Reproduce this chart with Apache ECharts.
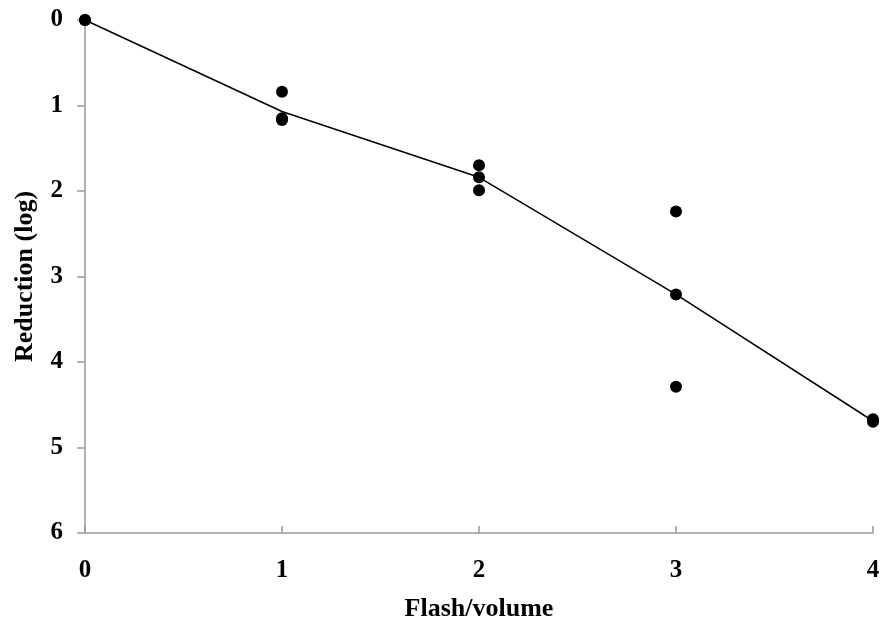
<!DOCTYPE html>
<html>
<head>
<meta charset="utf-8">
<script src="https://cdn.jsdelivr.net/npm/echarts@6/dist/echarts.min.js"></script>
<style>html,body{margin:0;padding:0;background:#fff;}#c{width:880px;height:625px;}</style>
</head>
<body>
<div id="c"></div>
<script>
const xTicks = [0, 1, 2, 3, 4];
const yTicks = [0, 1, 2, 3, 4, 5, 6];
const obsX = [0, 0, 1, 1, 1, 2, 2, 2, 3, 3, 3, 4, 4];
const obsY = [0, 0, 0.84, 1.15, 1.17, 1.70, 1.84, 1.99, 2.24, 3.21, 4.29, 4.67, 4.70];
const meanX = [0, 1, 2, 3, 4];
const meanY = [0, 1.07, 1.84, 3.21, 4.69];

const font = 'Liberation Serif';
const chart = echarts.init(document.getElementById('c'));
chart.setOption({
  animation: false,
  backgroundColor: '#fff',
  grid: { left: 85, right: 7, top: 20, bottom: 92, outerBoundsMode: 'none' },
  xAxis: {
    type: 'value', position: 'bottom', min: xTicks[0], max: xTicks[xTicks.length - 1], interval: 1,
    name: 'Flash/volume', nameLocation: 'middle', nameGap: 63,
    nameTextStyle: { fontFamily: font, fontWeight: 'bold', fontSize: 26, color: '#000' },
    axisLine: { show: true, onZero: false, lineStyle: { color: '#999', width: 1.5 } },
    axisTick: { show: true, inside: true, length: 7, lineStyle: { color: '#999', width: 1.5 } },
    axisLabel: { margin: 25, fontFamily: font, fontWeight: 'bold', fontSize: 25, color: '#000' },
    splitLine: { show: false }
  },
  yAxis: {
    type: 'value', position: 'left', min: yTicks[0], max: yTicks[yTicks.length - 1], interval: 1, inverse: true,
    name: 'Reduction (log)', nameLocation: 'middle', nameGap: 47, nameRotate: 90,
    nameTextStyle: { fontFamily: font, fontWeight: 'bold', fontSize: 26, color: '#000' },
    axisLine: { show: true, onZero: false, lineStyle: { color: '#999', width: 1.5 } },
    axisTick: { show: true, inside: false, length: 8, lineStyle: { color: '#999', width: 1.5 } },
    axisLabel: { margin: 22, fontFamily: font, fontWeight: 'bold', fontSize: 25, color: '#000' },
    splitLine: { show: false }
  },
  series: [
    {
      type: 'line', data: meanX.map((x, i) => [x, meanY[i]]),
      showSymbol: false, symbol: 'none',
      lineStyle: { color: '#000', width: 1.5 }, z: 2
    },
    {
      type: 'scatter', data: obsX.map((x, i) => [x, obsY[i]]),
      symbol: 'circle', symbolSize: 12,
      itemStyle: { color: '#000', opacity: 1 }, z: 3
    }
  ]
});
</script>
</body>
</html>
